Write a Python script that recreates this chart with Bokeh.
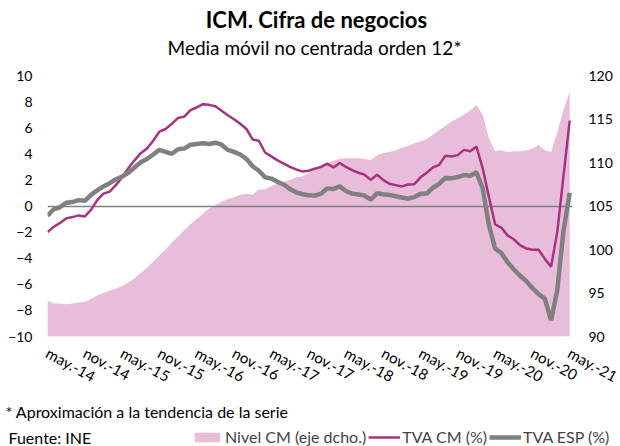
from bokeh.plotting import figure
from bokeh.layouts import column
from bokeh.models import Range1d, LinearAxis, FixedTicker, Legend, LegendItem
from bokeh.core.properties import value
from bokeh.embed import file_html
from bokeh.resources import INLINE

# ---- data (monthly, may-14 .. may-21) ----
nivel_cm = [94.1, 93.8, 93.8, 93.7, 93.8, 93.9, 94.0, 94.3, 94.7, 95.0,
            95.3, 95.5, 95.8, 96.2, 96.7, 97.3, 97.9, 98.6, 99.3, 100.0,
            100.8, 101.5, 102.2, 102.9, 103.5, 104.1, 104.7, 105.1, 105.5, 105.8,
            106.0, 106.3, 106.4, 106.3, 106.9, 106.9, 107.3, 107.6, 107.8, 108.0,
            108.3, 108.4, 108.8, 109.1, 109.5, 109.9, 110.2, 110.4, 110.5, 110.5,
            110.5, 110.4, 110.3, 110.8, 111.1, 111.2, 111.4, 111.7, 111.9, 112.2,
            112.4, 112.7, 113.2, 113.7, 114.2, 114.7, 115.1, 115.5, 116.0, 116.6,
            115.5, 112.8, 111.3, 111.4, 111.2, 111.3, 111.3, 111.4, 111.6, 112.0,
            111.4, 111.2, 113.5, 116.0, 118.2]

tva_cm = [-2.0, -1.6, -1.3, -0.95, -0.85, -0.72, -0.8, -0.3, 0.45, 0.95,
          1.1, 1.6, 2.2, 2.9, 3.5, 4.05, 4.4, 5.0, 5.7, 5.9,
          6.3, 6.75, 6.85, 7.35, 7.55, 7.8, 7.75, 7.65, 7.3, 6.95,
          6.65, 6.3, 5.9, 5.1, 5.0, 4.1, 3.8, 3.5, 3.25, 3.0,
          2.8, 2.65, 2.7, 2.85, 3.0, 3.25, 2.95, 3.3, 3.0, 2.75,
          2.55, 2.4, 2.0, 2.4, 2.0, 1.7, 1.6, 1.5, 1.65, 1.67,
          2.2, 2.55, 2.95, 3.15, 3.85, 3.8, 3.9, 4.3, 4.2, 4.55,
          2.9, 0.7, -1.4, -1.65, -2.25, -2.55, -3.0, -3.25, -3.35, -3.35,
          -4.05, -4.65, -2.0, 2.3, 6.55]

tva_esp = [-0.75, -0.25, -0.1, 0.25, 0.3, 0.45, 0.4, 0.85, 1.2, 1.5,
           1.75, 2.05, 2.25, 2.55, 2.95, 3.35, 3.6, 3.95, 4.3, 4.15,
           4.0, 4.35, 4.4, 4.7, 4.75, 4.8, 4.75, 4.85, 4.7, 4.3,
           4.15, 3.95, 3.6, 3.05, 2.7, 2.2, 2.1, 1.85, 1.65, 1.3,
           1.05, 0.9, 0.82, 0.8, 0.95, 1.35, 1.3, 1.5, 1.15, 0.95,
           0.88, 0.8, 0.48, 0.98, 0.9, 0.85, 0.75, 0.65, 0.56, 0.68,
           0.93, 0.95, 1.4, 1.7, 2.15, 2.12, 2.22, 2.37, 2.32, 2.58,
           1.35, -1.45, -3.25, -3.6, -4.3, -4.85, -5.35, -5.75, -6.3, -6.75,
           -7.1, -8.75, -6.45, -1.9, 1.0]

x_labels = ["may.-14", "nov.-14", "may.-15", "nov.-15", "may.-16", "nov.-16",
            "may.-17", "nov.-17", "may.-18", "nov.-18", "may.-19", "nov.-19",
            "may.-20", "nov.-20", "may.-21"]
left_ticks = [-10, -8, -6, -4, -2, 0, 2, 4, 6, 8, 10]
right_ticks = [90, 95, 100, 105, 110, 115, 120]

title_text = "ICM. Cifra de negocios"
subtitle_text = "Media móvil no centrada orden 12*"
note_text = "* Aproximación a la tendencia de la serie"
source_text = "Fuente:  INE"
legend_labels = ["Nivel CM (eje dcho.)", "TVA CM (%)", "TVA ESP (%)"]

FONT = "Lato"
PINK = "#E8BDD9"
MAGENTA = "#A8327F"
GREY = "#808080"
W = 620
NAN = float("nan")


def blank(h):
    f = figure(width=W, height=h, output_backend="svg", toolbar_location=None,
               x_range=Range1d(0, W), y_range=Range1d(0, h),
               min_border=0, x_axis_location=None, y_axis_location=None)
    f.outline_line_color = None
    f.grid.grid_line_color = None
    f.frame_align = False
    return f


# ---- header ----
HH = 67
header = blank(HH)
header.text(x=[316], y=[HH - 19], text=[title_text], text_font=value(FONT),
            text_font_style="bold", text_font_size="22px",
            text_align="center", text_baseline="middle")
header.text(x=[314], y=[HH - 47], text=[subtitle_text], text_font=value(FONT),
            text_font_size="19px", text_align="center", text_baseline="middle")

# ---- main chart ----
months = list(range(len(nivel_cm)))
label_pos = list(range(0, len(nivel_cm), 6))

MH = 328
p = figure(width=W, height=MH, output_backend="svg", toolbar_location=None,
           x_range=Range1d(0, 84.45), y_range=Range1d(-10, 10),
           min_border_left=47, min_border_right=48, min_border_top=8,
           min_border_bottom=56)
p.frame_align = False
p.outline_line_color = None
p.grid.grid_line_color = None
p.xaxis.visible = False
p.yaxis.visible = False
p.extra_y_ranges = {"nivel": Range1d(90, 120)}

p.varea(x=months, y1=[90] * len(months), y2=nivel_cm, y_range_name="nivel",
        fill_color=PINK)
p.hspan(y=[0], line_color=GREY, line_width=1.5)
p.line(months, tva_cm, line_color=MAGENTA, line_width=2.5)
p.line(months, tva_esp, line_color=GREY, line_width=4.5)

yl = LinearAxis(ticker=FixedTicker(ticks=left_ticks))
yr = LinearAxis(ticker=FixedTicker(ticks=right_ticks), y_range_name="nivel")
xb = LinearAxis(ticker=FixedTicker(ticks=label_pos))
xb.major_label_overrides = {pos: lab for pos, lab in zip(label_pos, x_labels)}
xb.major_label_orientation = -0.5
for ax in (yl, yr, xb):
    ax.axis_line_color = None
    ax.major_tick_line_color = None
    ax.minor_tick_line_color = None
    ax.major_tick_out = 0
    ax.major_tick_in = 0
    ax.major_label_text_font = FONT
    ax.major_label_text_font_size = "14px"
    ax.major_label_text_color = "#000000"
xb.major_label_text_font_size = "15px"
yl.major_label_standoff = 15
yr.major_label_standoff = 16
xb.major_label_standoff = 15
p.add_layout(yl, "left")
p.add_layout(yr, "right")
p.add_layout(xb, "below")

# ---- footer: note, source, legend ----
FH = 446 - HH - MH
footer = blank(FH)
footer.text(x=[5], y=[FH - 16], text=[note_text], text_font=value(FONT),
            text_font_size="16px", text_align="left", text_baseline="middle")
footer.text(x=[8], y=[FH - 42], text=[source_text], text_font=value(FONT),
            text_font_size="16px", text_align="left", text_baseline="middle")
r_area = footer.varea(x=[NAN], y1=[NAN], y2=[NAN], fill_color=PINK)
r_cm = footer.line(x=[NAN], y=[NAN], line_color=MAGENTA, line_width=2.5)
r_esp = footer.line(x=[NAN], y=[NAN], line_color=GREY, line_width=4.5)
legend = Legend(items=[LegendItem(label=legend_labels[0], renderers=[r_area]),
                       LegendItem(label=legend_labels[1], renderers=[r_cm]),
                       LegendItem(label=legend_labels[2], renderers=[r_esp])],
                orientation="horizontal", location=(191, 0),
                glyph_width=32, glyph_height=12, label_standoff=2, spacing=2,
                label_height=14, padding=0, margin=0, background_fill_alpha=0,
                border_line_color=None, label_text_font=FONT,
                label_text_font_size="16px", label_text_baseline="middle")
footer.add_layout(legend, "center")

layout = column(header, p, footer, spacing=0)
open("out.html", "w").write(file_html(layout, INLINE))
